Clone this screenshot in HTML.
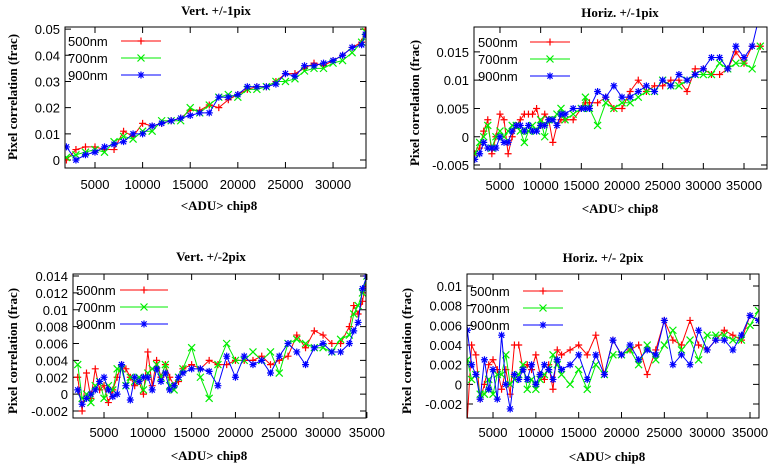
<!DOCTYPE html>
<html><head><meta charset="utf-8"><style>
html,body{margin:0;padding:0;background:#fff;}
svg{display:block;}
text{font-family:"Liberation Sans",sans-serif;}
.t{font-family:"Liberation Serif",serif;font-weight:bold;}
</style></head><body>
<svg id="c" width="779" height="474"></svg>
<script>
const x1=[2000,3000,4000,5000,6000,7000,8000,9000,10000,11000,12000,13000,14000,15000,16000,17000,18000,19000,20000,21000,22000,23000,24000,25000,26000,27000,28000,29000,30000,31000,32000,33000,33400];
const p1_500=[0,.004,.005,.005,.004,.004,.011,.009,.014,.013,.014,.015,.016,.019,.019,.021,.020,.023,.025,.027,.028,.028,.030,.033,.033,.035,.037,.036,.038,.040,.043,.045,.050];
const p1_700=[.001,.002,.003,.004,.003,.007,.009,.008,.011,.011,.015,.015,.015,.020,.018,.021,.024,.025,.024,.027,.027,.028,.030,.030,.031,.034,.035,.035,.037,.038,.041,.045,.049];
const p1_900=[.005,.000,.002,.003,.005,.006,.007,.010,.010,.013,.014,.015,.016,.017,.018,.018,.024,.024,.025,.028,.028,.028,.029,.033,.032,.036,.036,.037,.038,.040,.043,.044,.048];
const x2=[1900,2500,3000,3500,4000,4500,5000,5500,6000,6500,7000,7500,8000,8500,9000,9500,10000,10500,11000,11500,12000,12500,13000,14000,15000,15500,16000,17000,18000,19000,20000,21000,22000,23000,24000,25000,26000,27000,28000,29000,30000,31000,32000,33000,34000,35000,36000,37000];
const p2_500=[-.003,-.002,.001,.003,-.003,.0,.004,.003,-.003,.0,.002,.003,.004,.004,.004,.005,.002,.004,.003,-.001,.002,.003,.003,.003,.005,.006,.006,.006,.007,.005,.005,.008,.010,.008,.009,.009,.010,.010,.008,.012,.012,.011,.011,.012,.015,.013,.016,.016];
const p2_700=[-.003,-.001,0,.002,-.002,0,.001,0,.001,.002,.002,.001,-.001,.001,.002,.001,.003,0,.003,.003,.004,.005,.003,.004,.005,.007,.005,.002,.006,.005,.006,.006,.007,.008,.008,.010,.009,.009,.010,.011,.011,.011,.013,.012,.013,.013,.012,.016];
const p2_900=[-.004,-.003,-.001,-.002,-.002,-.002,0,-.001,-.001,.001,.002,.002,.001,.002,.001,.001,.002,.002,.003,.003,.002,.004,.004,.005,.005,.005,.005,.008,.007,.009,.007,.007,.008,.009,.008,.010,.009,.011,.010,.011,.012,.014,.014,.012,.016,.014,.016,.022];
const x3=[2000,2500,3000,3500,4000,4500,5000,5500,6000,6500,7000,7500,8000,8500,9000,9500,10000,10500,11000,11500,12000,12500,13000,13500,14000,15000,16000,17000,18000,19000,20000,21000,22000,23000,24000,25000,26000,27000,28000,29000,30000,31000,32000,33000,33500,34000,34500,35000];
const p3_500=[.002,-.002,.0025,-.0005,.003,.0005,.001,-.001,.0005,.002,.0035,.003,.002,.001,.0015,.0,.005,.001,.004,.002,.0035,.002,.001,.0015,.003,.0035,.003,.004,.0035,.0035,.004,.004,.004,.0045,.0035,.004,.0045,.007,.0055,.0075,.007,.006,.006,.008,.0105,.0095,.011,.014];
const p3_700=[.0035,-.0005,0,-.001,.001,.0015,-.0005,.001,.0005,.003,.003,.001,.002,.0015,.002,.0005,.0025,.003,.0035,.002,.0035,.001,.0005,.002,.003,.0055,.002,-.0005,.0035,.006,.004,.004,.005,.004,.005,.0025,.006,.0065,.006,.0055,.0055,.005,.0065,.007,.0095,.0105,.012,.014];
const p3_900=[.0005,-.0012,-.0005,.0,.0005,.0015,.002,.0005,-.0003,.0,.0035,.001,-.0007,.002,.0015,.002,.002,.0005,.003,.0015,.0025,.0005,.001,.002,.0025,.003,.003,.0027,.001,.0045,.002,.0045,.0035,.004,.0025,.0045,.006,.005,.0035,.0055,.006,.005,.005,.006,.0075,.0085,.0125,.014];
const x4=[2000,2500,3000,3500,4000,4500,5000,5500,6000,6500,7000,7500,8000,8500,9000,9500,10000,10500,11000,11500,12000,12500,13000,14000,15000,16000,17000,18000,19000,20000,21000,22000,23000,24000,25000,26000,27000,28000,29000,30000,31000,32000,33000,34000,35000,36000];
const p4_500=[-.0035,.004,.003,-.0015,.0,.002,.0025,.0015,-.0005,.0015,-.001,.004,.004,.0015,.002,.0015,.003,.001,.0005,.002,-.0005,.0035,.003,.0035,.004,.003,.005,.001,.0045,.003,.0035,.004,.001,.0035,.0065,.0045,.004,.0065,.004,.0035,.0045,.0055,.005,.0045,.007,.0065];
const p4_700=[.0025,.0005,.001,-.001,-.001,.0005,-.001,.001,.001,.003,.0,.0005,.001,.002,-.0005,.0005,-.0005,.0005,.001,.0015,.003,.002,.001,.0,.0015,-.0005,.002,.001,.003,.003,.0035,.002,.004,.0025,.004,.0055,.0035,.0045,.0025,.005,.005,.005,.0045,.0045,.006,.0075];
const p4_900=[.0055,.002,.001,-.0015,.0025,-.0005,.0015,-.0015,.005,.0,-.0025,.001,.0005,.0015,.0005,.002,.0,.001,.002,.0015,.0005,.0025,.0015,.002,.003,.0005,.003,.001,.0045,.003,.004,.0025,.0035,.003,.0065,.002,.003,.002,.0055,.0035,.0045,.0045,.0035,.005,.007,.0065];
const seriesNames=["500nm","700nm","900nm"];
const xt1=[5000,10000,15000,20000,25000,30000], yt1=[0,0.01,0.02,0.03,0.04,0.05];
const xt2=[5000,10000,15000,20000,25000,30000,35000], yt2=[-0.005,0,0.005,0.01,0.015];
const xt3=[5000,10000,15000,20000,25000,30000,35000], yt3=[-0.002,0,0.002,0.004,0.006,0.008,0.01,0.012,0.014];
const xt4=[5000,10000,15000,20000,25000,30000,35000], yt4=[-0.002,0,0.002,0.004,0.006,0.008,0.01];

const NS="http://www.w3.org/2000/svg", svg=document.getElementById('c');
function mk(t,a,p){const e=document.createElementNS(NS,t);for(const k in a)e.setAttribute(k,a[k]);(p||svg).appendChild(e);return e;}
const colors=["#ff0000","#00ee00","#0000ff"];
function marker(g,k,x,y,c){
  const s=3.5;
  if(k===0){mk('path',{d:`M${x-s} ${y}H${x+s}M${x} ${y-s}V${y+s}`,stroke:c,'stroke-width':1.2,fill:'none'},g);}
  else if(k===1){mk('path',{d:`M${x-s} ${y-s}L${x+s} ${y+s}M${x-s} ${y+s}L${x+s} ${y-s}`,stroke:c,'stroke-width':1.2,fill:'none'},g);}
  else{mk('path',{d:`M${x-s} ${y}H${x+s}M${x} ${y-s}V${y+s}M${x-s*.75} ${y-s*.75}L${x+s*.75} ${y+s*.75}M${x-s*.75} ${y+s*.75}L${x+s*.75} ${y-s*.75}`,stroke:c,'stroke-width':1.2,fill:'none'},g);}
}
const panels=[
 {id:'vert-1pix',title:'Vert. +/-1pix',L:65,R:366,T:27,B:168,x0:1850,x1:33460,y0:-0.00305,y1:0.0508,xs:x1,ys:[p1_500,p1_700,p1_900],xt:xt1,yt:yt1,tx:216,ty:15,ylx:17,yly:97,xlx:219,xly:210,xtY:189,legX:68,legL:121,legR:161,legY:41},
 {id:'horiz-1pix',title:'Horiz. +/-1pix',L:474,R:767,T:27,B:169,x0:1806,x1:37826,y0:-0.0057,y1:0.0194,xs:x2,ys:[p2_500,p2_700,p2_900],xt:xt2,yt:yt2,tx:620,ty:17,ylx:419,yly:103,xlx:620,xly:213,xtY:190,legX:478,legL:530,legR:570,legY:42},
 {id:'vert-2pix',title:'Vert. +/-2pix',L:73,R:366,T:274,B:418,x0:1460,x1:34900,y0:-0.00283,y1:0.01424,xs:x3,ys:[p3_500,p3_700,p3_900],xt:xt3,yt:yt3,tx:211,ty:261,ylx:17,yly:351,xlx:209,xly:460,xtY:437,legX:76,legL:120,legR:168,legY:290},
 {id:'horiz-2pix',title:'Horiz. +/- 2pix',L:467,R:759,T:274,B:418,x0:1963,x1:36050,y0:-0.00342,y1:0.01122,xs:x4,ys:[p4_500,p4_700,p4_900],xt:xt4,yt:yt4,tx:603,ty:262,ylx:411,yly:351,xlx:607,xly:461,xtY:437,legX:470,legL:523,legR:563,legY:291}
];
panels.forEach((P,pi)=>{
  const g=mk('g',{});
  
  
  const sx=v=>P.L+(v-P.x0)/(P.x1-P.x0)*(P.R-P.L);
  const sy=v=>P.B-(v-P.y0)/(P.y1-P.y0)*(P.B-P.T);
  const cp=mk('clipPath',{id:'cp'+pi},g);mk('rect',{x:P.L,y:P.T,width:P.R-P.L,height:P.B-P.T},cp);
  const t=mk('text',{x:P.tx,y:P.ty,'text-anchor':'middle','font-size':13,class:'t'},g);t.textContent=P.title;
  
  
  const yl=mk('text',{transform:`translate(${P.ylx},${P.yly}) rotate(-90)`,'text-anchor':'middle','font-size':13,class:'t'},g);yl.textContent='Pixel correlation (frac)';
  
  
  const xl=mk('text',{x:P.xlx,y:P.xly,'text-anchor':'middle','font-size':13,class:'t'},g);xl.textContent='<ADU> chip8';
  
  
  P.xt.forEach(v=>{const x=sx(v);mk('path',{d:`M${x} ${P.B}v-6M${x} ${P.T}v6`,stroke:'#000','stroke-width':1},g);
    const tt=mk('text',{x:x,y:P.xtY,'text-anchor':'middle','font-size':13},g);tt.textContent=v;
    
    });
  P.yt.forEach(v=>{const y=sy(v);mk('path',{d:`M${P.L} ${y}h6M${P.R} ${y}h-6`,stroke:'#000','stroke-width':1},g);
    const tt=mk('text',{x:P.L-5,y:y+5,'text-anchor':'end','font-size':13},g);tt.textContent=String(v);
    
    });
  const dg=mk('g',{'clip-path':`url(#cp${pi})`},g);
  P.ys.forEach((arr,k)=>{
    const sg=mk('g',{},dg);
    
    
    mk('polyline',{points:arr.map((v,i)=>sx(P.xs[i])+','+sy(v)).join(' '),fill:'none',stroke:colors[k],'stroke-width':1},sg);
    arr.forEach((v,i)=>marker(sg,k,sx(P.xs[i]),sy(v),colors[k]));
  });
  seriesNames.forEach((n,k)=>{
    const lg=mk('g',{},g);
    
    
    const y=P.legY+k*17;
    const lt=mk('text',{x:P.legX,y:y+5,'font-size':13},lg);lt.textContent=n;
    mk('line',{x1:P.legL,y1:y,x2:P.legR,y2:y,stroke:colors[k],'stroke-width':1},lg);
    marker(lg,k,(P.legL+P.legR)/2,y,colors[k]);
  });
  mk('rect',{x:P.L,y:P.T,width:P.R-P.L,height:P.B-P.T,fill:'none',stroke:'#000','stroke-width':1},g);
});
</script>
</body></html>
